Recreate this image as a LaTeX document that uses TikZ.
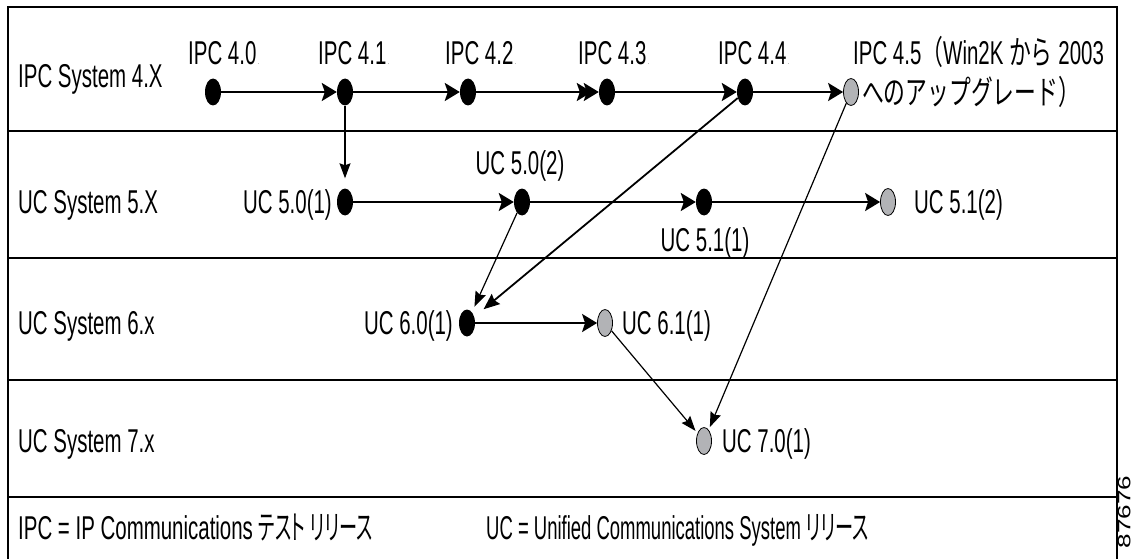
\documentclass[tikz,border=0pt]{standalone}
\usepackage{fontspec}
\setmainfont{Liberation Sans}[FakeStretch=0.62]
\newfontfamily\narrowfont{Liberation Sans}[FakeStretch=0.56]
\newfontfamily\jpfont{Noto Sans CJK JP}[FakeStretch=0.66]
\newfontfamily\jpkeyfont{Noto Sans CJK JP}[FakeStretch=0.55,RawFeature=+palt]
\newfontfamily\idfont{Liberation Sans}[FakeStretch=1.45]
\usetikzlibrary{shapes.geometric,arrows.meta}
\definecolor{graydotfill}{RGB}{178,179,182}
\newcommand{\jp}[1]{{\jpfont #1}}
\newcommand{\jpk}[1]{{\jpkeyfont #1}}
\newcommand{\tdot}{{\color{gray}\fontsize{9}{9}\selectfont\,.}}
\begin{document}
\begin{tikzpicture}[x=1pt,y=-1pt,
  txt/.style={font=\fontsize{33}{36}\selectfont, inner sep=0pt, text height=23.5pt, text depth=0pt},
  blackdot/.style={ellipse, fill=black, inner sep=0pt, minimum width=16pt, minimum height=27pt},
  graydot/.style={ellipse, draw=black, line width=0.8pt, fill=graydotfill, inner sep=0pt, minimum width=15pt, minimum height=27pt},
  flow/.style={line width=2.2pt, -{Stealth[length=15pt,width=18pt,inset=3pt]}},
  link/.style={line width=1.2pt, -{Stealth[length=15pt,width=11pt,inset=2pt]}},
  divider/.style={line width=2.4pt}]
\useasboundingbox (0,0) rectangle (1132,559);

% frame and row dividers
\draw[line width=1.3pt] (8,559) -- (8,7) -- (1117,7) -- (1117,559);
\foreach \yy in {131,258,380,497} \draw[divider] (8,\yy) -- (1117,\yy);

% row titles
\node[txt, anchor=west] (row4) at (18,76) {IPC System 4.X};
\node[txt, anchor=west] (row5) at (18,202) {UC System 5.X};
\node[txt, anchor=west] (row6) at (18,323) {UC System 6.x};
\node[txt, anchor=west] (row7) at (18,441) {UC System 7.x};

% releases
\node[blackdot] (i40) at (213,92) {};
\node[blackdot] (i41) at (345,92) {};
\node[blackdot] (i42) at (468,92) {};
\node[blackdot] (i43) at (607,92) {};
\node[blackdot] (i44) at (745,92) {};
\node[graydot]  (i45) at (851,92) {};

\node[blackdot] (u501) at (345,202) {};
\node[blackdot] (u502) at (522,202) {};
\node[blackdot] (u511) at (704,202) {};
\node[graydot]  (u512) at (888,202) {};

\node[blackdot] (u601) at (467,323) {};
\node[graydot]  (u611) at (605,323) {};

\node[graydot]  (u701) at (704,441) {};

% release labels
\node[txt, anchor=west] (l40) at (188,53) {IPC 4.0\tdot};
\node[txt, anchor=west] (l41) at (318,53) {IPC 4.1\tdot};
\node[txt, anchor=west] (l42) at (445,53) {IPC 4.2\tdot};
\node[txt, anchor=west] (l43) at (578,53) {IPC 4.3\tdot};
\node[txt, anchor=west] (l44) at (718,53) {IPC 4.4\tdot};
\node[txt, anchor=west] (l45a) at (853,53) {IPC 4.5\jp{（}Win2K \jp{から} 2003};
\node[txt, anchor=west] (l45b) at (862,93) {\jp{へのアップグレード）}};

\node[txt, anchor=east] (l501) at (332,202) {UC 5.0(1)};
\node[txt] (l502) at (520,163) {UC 5.0(2)};
\node[txt] (l511) at (705,240) {UC 5.1(1)};
\node[txt, anchor=west] (l512) at (914,202) {UC 5.1(2)};
\node[txt, anchor=east] (l601) at (453,323) {UC 6.0(1)};
\node[txt, anchor=west] (l611) at (622,323) {UC 6.1(1)};
\node[txt, anchor=west] (l701) at (722,441) {UC 7.0(1)};

% upgrade paths
\draw[flow] (i40) -- (i41);
\draw[flow] (i41) -- (i42);
\draw[line width=2.2pt, -{Stealth[length=15pt,width=18pt,inset=3pt,sep=-8pt]Stealth[length=15pt,width=18pt,inset=3pt]}] (i42) -- (i43);
\draw[flow] (i43) -- (i44);
\draw[flow] (i44) -- (i45);

\draw[link, shorten >=10pt] (i41) -- (u501);
\draw[flow] (u501) -- (u502);
\draw[flow] (u502) -- (u511);
\draw[flow] (u511) -- (u512);

\draw[link, shorten >=6pt] (u502) -- (u601);
\draw[link, line width=1.8pt, -{Stealth[length=16pt,width=13pt,inset=2pt]}, shorten >=12pt] (i44) -- (u601);
\draw[flow] (u601) -- (u611);

\draw[link, shorten >=3pt] (u611) -- (u701);
\draw[link, shorten >=3pt] (i45) -- (u701);

% legend
\node[txt, anchor=west] (key1) at (18,528) {IPC = IP Communications \jpk{テスト リリース}};
\node[txt, anchor=west] (key2) at (486,528) {\narrowfont UC = Unified Communications System \jpk{リリース}};

% figure number
\node[font=\idfont\fontsize{18}{18}\selectfont, inner sep=0pt, rotate=90] (fig) at (1124.2,512) {87676};
\end{tikzpicture}
\end{document}
